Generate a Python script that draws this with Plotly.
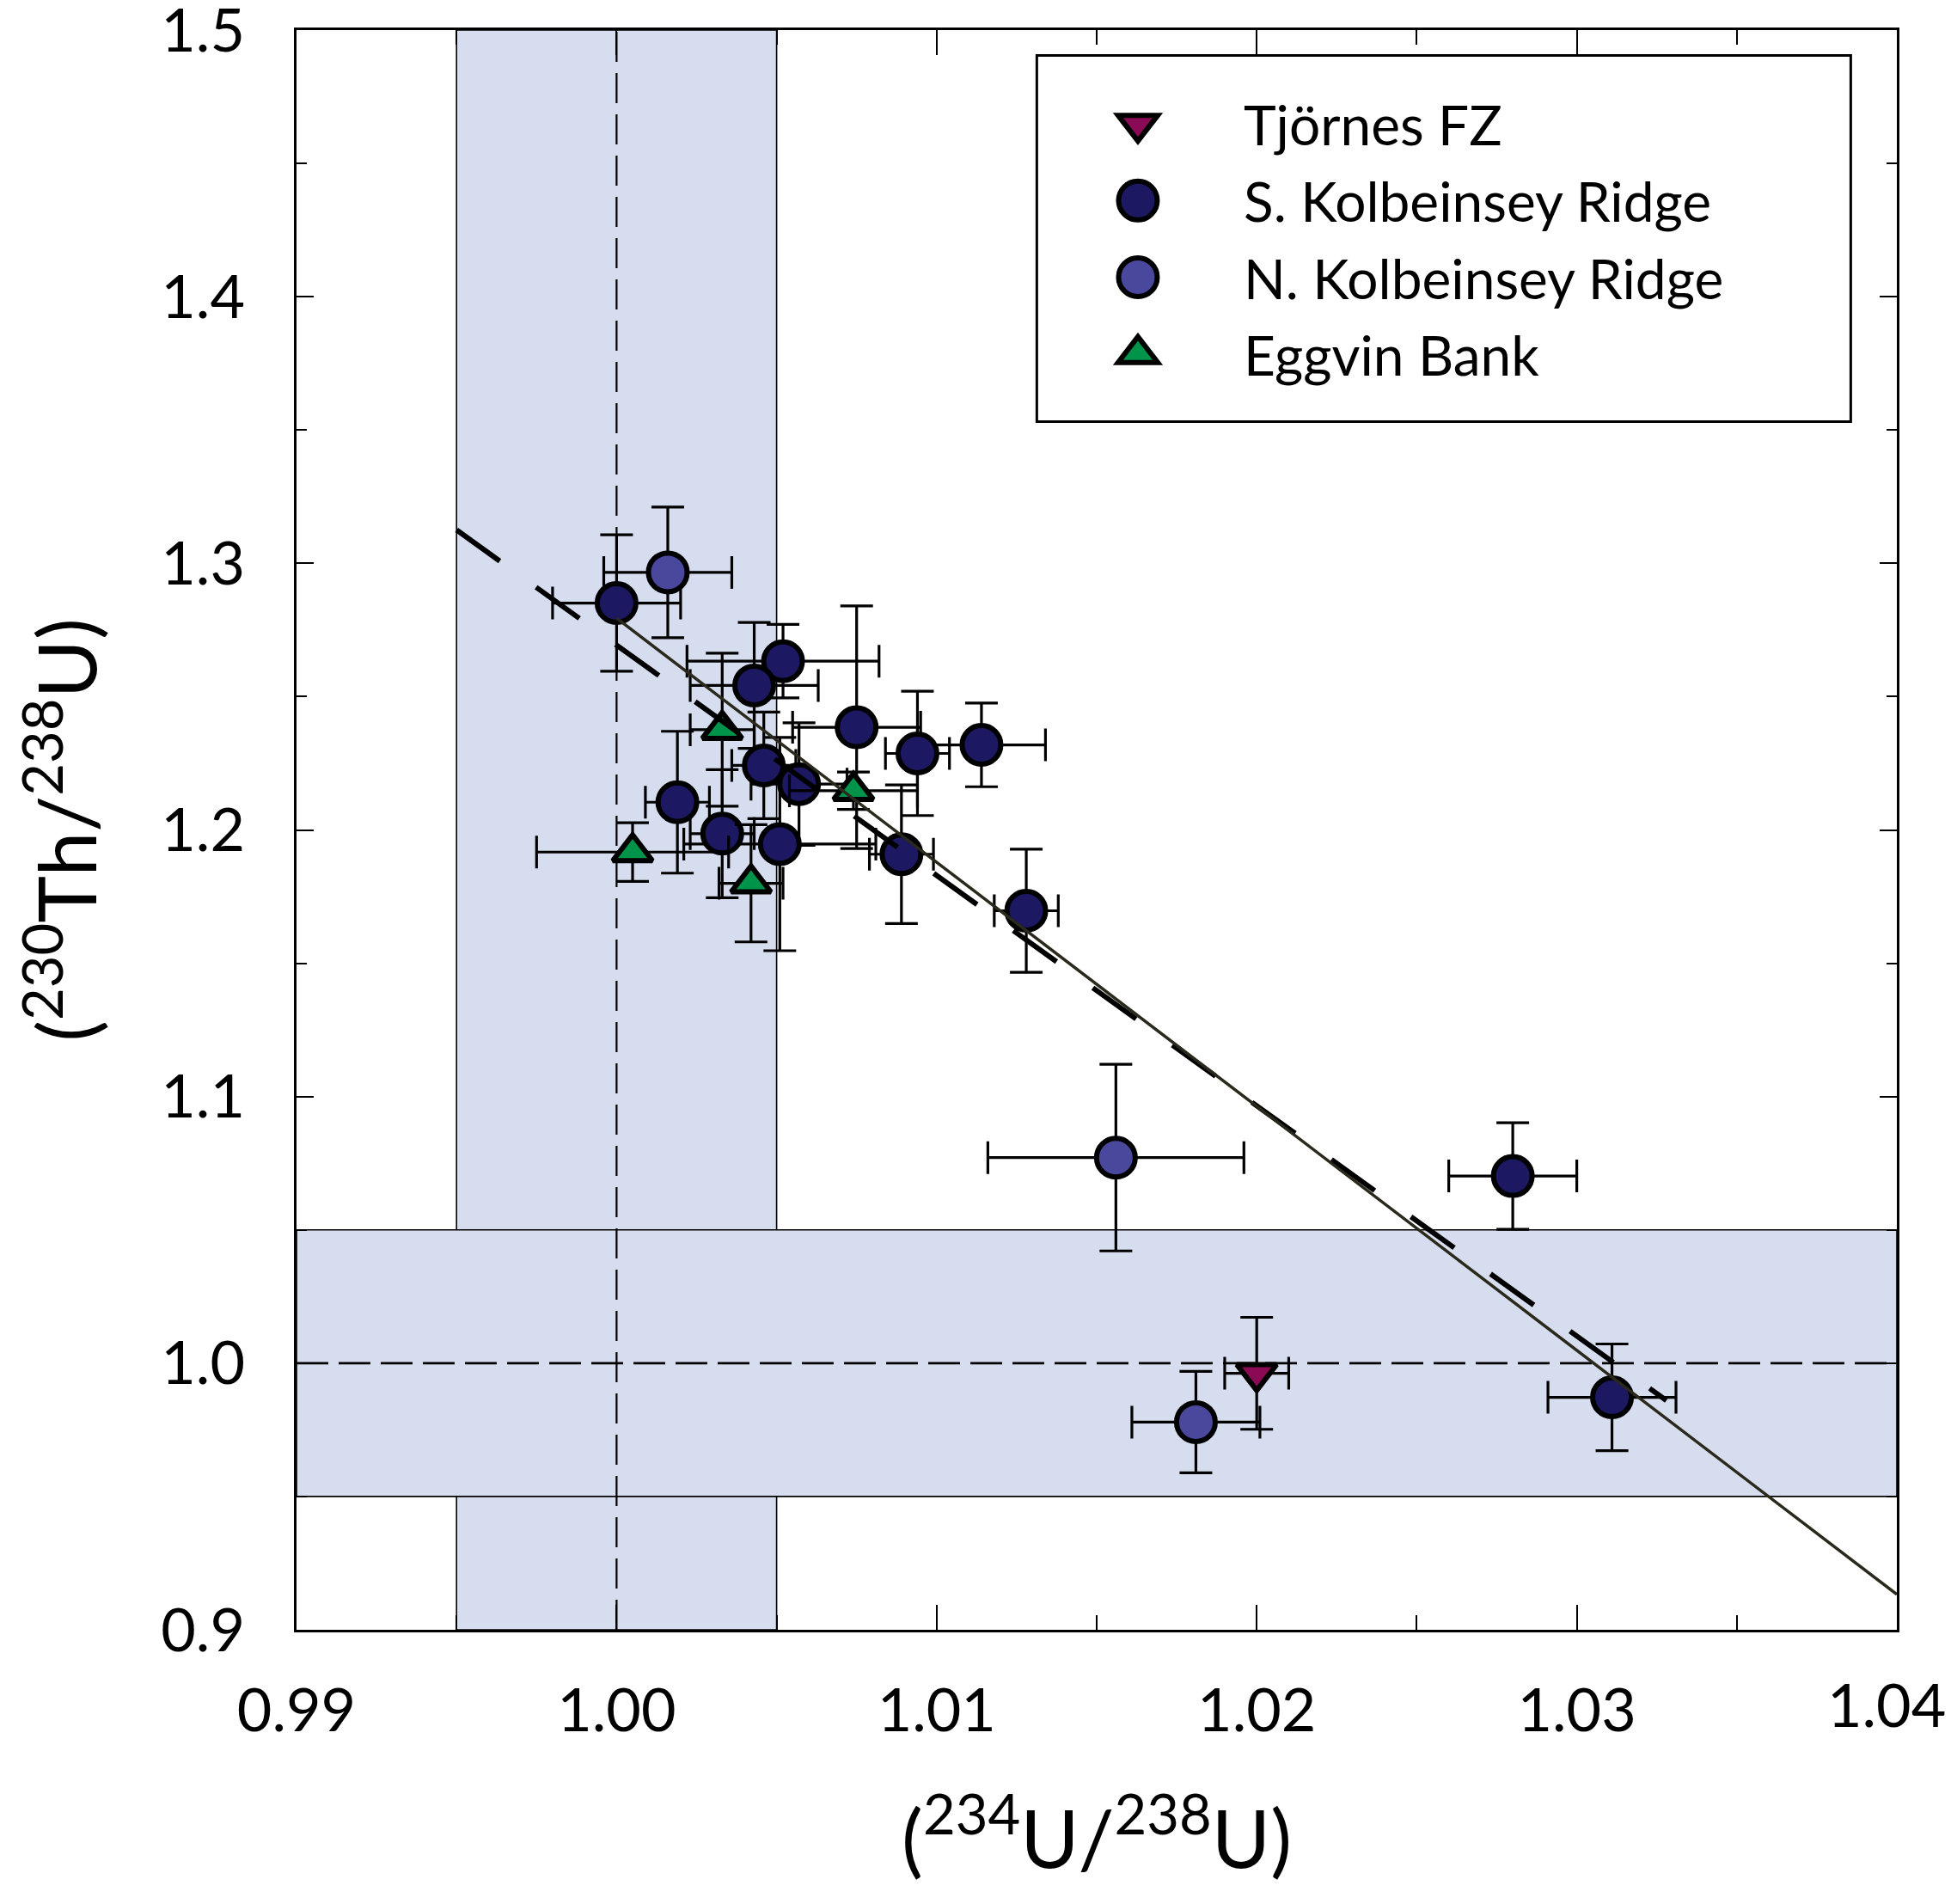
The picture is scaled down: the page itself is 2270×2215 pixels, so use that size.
import plotly.graph_objects as go

FONT = "Lato, 'Open Sans', sans-serif"

# ---------------- data ----------------
# Tjörnes FZ
tj_x = [1.0200]
tj_y = [0.9962]
tj_xerr = [0.001]
tj_yerr = [0.021]

# S. Kolbeinsey Ridge
sk_x = [1.0000, 1.0052, 1.0043, 1.0075, 1.0094, 1.0114, 1.0046, 1.0057,
        1.0019, 1.0033, 1.0051, 1.0089, 1.0128, 1.0280, 1.0311]
sk_y = [1.2851, 1.2633, 1.2542, 1.2385, 1.2287, 1.2319, 1.2242, 1.2172,
        1.2104, 1.1986, 1.1947, 1.1909, 1.1697, 1.0702, 0.9872]
sk_xerr = [0.002, 0.003, 0.002, 0.002, 0.001, 0.002, 0.001, 0.0015,
           0.001, 0.001, 0.003, 0.001, 0.001, 0.002, 0.002]
sk_yerr = [0.0256, 0.0138, 0.0236, 0.0455, 0.0233, 0.0157, 0.020, 0.023,
           0.0266, 0.024, 0.040, 0.026, 0.0231, 0.020, 0.020]

# N. Kolbeinsey Ridge
nk_x = [1.0016, 1.0156, 1.0181]
nk_y = [1.2966, 1.0771, 0.9779]
nk_xerr = [0.002, 0.004, 0.002]
nk_yerr = [0.0245, 0.035, 0.019]

# Eggvin Bank
eb_x = [1.0033, 1.0005, 1.0042, 1.0074]
eb_y = [1.2376, 1.1917, 1.1800, 1.2147]
eb_xerr = [0.001, 0.003, 0.001, 0.002]
eb_yerr = [0.0287, 0.011, 0.022, 0.007]

# regression lines
fit_solid_x = [1.0000, 1.0400]
fit_solid_y = [1.2794, 0.9133]
fit_dash_x = [0.9950, 1.0328]
fit_dash_y = [1.3125, 0.9860]

# equilibrium bands
x_band = [0.995, 1.005]
y_band = [0.95, 1.05]
eq_x = 1.0
eq_y = 1.0

x_range = [0.99, 1.04]
y_range = [0.9, 1.5]
x_ticks = [0.99, 1.00, 1.01, 1.02, 1.03, 1.04]
x_ticktext = ["0.99", "1.00", "1.01", "1.02", "1.03", "1.04"]
y_ticks = [0.9, 1.0, 1.1, 1.2, 1.3, 1.4, 1.5]

series = [
    ("Tjörnes FZ", tj_x, tj_y, tj_xerr, tj_yerr, "triangle-down", "#8a0a55", 40),
    ("S. Kolbeinsey Ridge", sk_x, sk_y, sk_xerr, sk_yerr, "circle", "#1c1862", 45),
    ("N. Kolbeinsey Ridge", nk_x, nk_y, nk_xerr, nk_yerr, "circle", "#4a489c", 45),
    ("Eggvin Bank", eb_x, eb_y, eb_xerr, eb_yerr, "triangle-up", "#00934a", 40),
]

fig = go.Figure()

for i, (name, x, y, xe, ye, sym, col, size) in enumerate(series):
    fig.add_trace(go.Scatter(
        x=x, y=y, mode="markers", name=name, legendgroup="g%d" % i,
        marker=dict(symbol=sym, color=col, size=size,
                    line=dict(color="black", width=6)),
        error_x=dict(type="data", array=xe, visible=True, color="black",
                     thickness=3.2, width=19),
        error_y=dict(type="data", array=ye, visible=True, color="black",
                     thickness=3.2, width=19),
        cliponaxis=False,
    ))

fig.add_trace(go.Scatter(
    x=fit_dash_x, y=fit_dash_y, mode="lines", showlegend=False,
    line=dict(color="black", width=6, dash="62px,52px"),
))
fig.add_trace(go.Scatter(
    x=fit_solid_x, y=fit_solid_y, mode="lines", showlegend=False,
    line=dict(color="#2b281c", width=3.5),
))

band_col = "#d6ddee"
shapes = [
    dict(type="rect", xref="x", yref="y domain", x0=x_band[0], x1=x_band[1],
         y0=0, y1=1, fillcolor=band_col, line=dict(width=1.6, color="black"),
         layer="below"),
    dict(type="rect", xref="x domain", yref="y", x0=0, x1=1,
         y0=y_band[0], y1=y_band[1], fillcolor=band_col,
         line=dict(width=1.6, color="black"), layer="below"),
    dict(type="line", xref="x", yref="y domain", x0=eq_x, x1=eq_x, y0=0, y1=1,
         line=dict(color="black", width=2.2, dash="35px,13px"), layer="below"),
    dict(type="line", xref="x domain", yref="y", x0=0, x1=1, y0=eq_y, y1=eq_y,
         line=dict(color="black", width=2.6, dash="37px,12px"), layer="below"),
    # legend frame
    dict(type="rect", xref="paper", yref="paper", x0=0.4626, x1=0.9712,
         y0=0.7553, y1=0.9841, line=dict(color="black", width=3),
         fillcolor="rgba(0,0,0,0)", layer="above"),
]

# the last x tick label sits at the page edge; draw it nudged inwards
annotations = [
    dict(text=x_ticktext[-1], x=x_ticks[-1], xref="x", y=0, yref="paper",
         xanchor="center", yanchor="middle", xshift=-12, yshift=-86,
         showarrow=False, font=dict(family=FONT, size=70, color="black")),
]

axis_common = dict(
    showline=True, linewidth=3, linecolor="black", mirror="allticks",
    ticks="inside", tickwidth=2.2, tickcolor="black", automargin=False,
    showgrid=False, zeroline=False, ticklabeloverflow="allow",
    tickfont=dict(family=FONT, size=70, color="black"),
)

fig.update_layout(
    width=2270, height=2215,
    margin=dict(l=345, r=63, t=35, b=319, autoexpand=False),
    paper_bgcolor="white", plot_bgcolor="white",
    font=dict(family=FONT, color="black"),
    shapes=shapes,
    annotations=annotations,
    showlegend=True,
    legend=dict(x=0.4597, y=0.9672, xanchor="left", yanchor="top",
                bgcolor="rgba(0,0,0,0)", borderwidth=0,
                font=dict(family=FONT, size=64, color="black"),
                itemwidth=236, traceorder="grouped", tracegroupgap=3),
    xaxis=dict(range=x_range, tickvals=x_ticks,
               ticktext=x_ticktext[:-1] + [""], ticklen=29,
               minor=dict(dtick=0.005, ticks="inside", ticklen=17,
                          tickwidth=2, tickcolor="black", showgrid=False),
               ticklabelstandoff=31,
               title=dict(text="(<sup>234</sup>U/<sup>238</sup>U)",
                          font=dict(family=FONT, size=93), standoff=80),
               **axis_common),
    yaxis=dict(range=y_range, tickvals=y_ticks, tickformat=".1f", ticklen=20,
               minor=dict(dtick=0.05, ticks="inside", ticklen=12,
                          tickwidth=2, tickcolor="black", showgrid=False),
               ticklabelstandoff=43,
               title=dict(text="(<sup>230</sup>Th/<sup>238</sup>U)",
                          font=dict(family=FONT, size=93), standoff=44),
               **axis_common),
)

# Remove the default page margin, and scale the legend symbols (Plotly caps
# them at 16 px) back up to the size used in the plot.
post_js = """
(function(){
  document.body.style.margin = '0';
  var gd = document.getElementById('{plot_id}');
  function fixLegend(){
    var items = gd.querySelectorAll('.legend .traces');
    items.forEach(function(tr){
      var d = tr.__data__;
      var trace = d && d[0] && d[0].trace;
      if(!trace || !trace.marker) return;
      var k = trace.marker.size / 16;
      var lw = trace.marker.line.width;
      tr.querySelectorAll('.legendpoints path.scatterpts').forEach(function(p){
        var t = p.getAttribute('transform') || '';
        if(t.indexOf('scale') < 0){ p.setAttribute('transform', t + ' scale(' + k + ')'); }
        p.style.strokeWidth = (lw / k) + 'px';
      });
    });
  }
  fixLegend();
  gd.on('plotly_afterplot', fixLegend);
})();
"""

fig.write_html("out.html", post_script=post_js,
               config={"displayModeBar": False})
